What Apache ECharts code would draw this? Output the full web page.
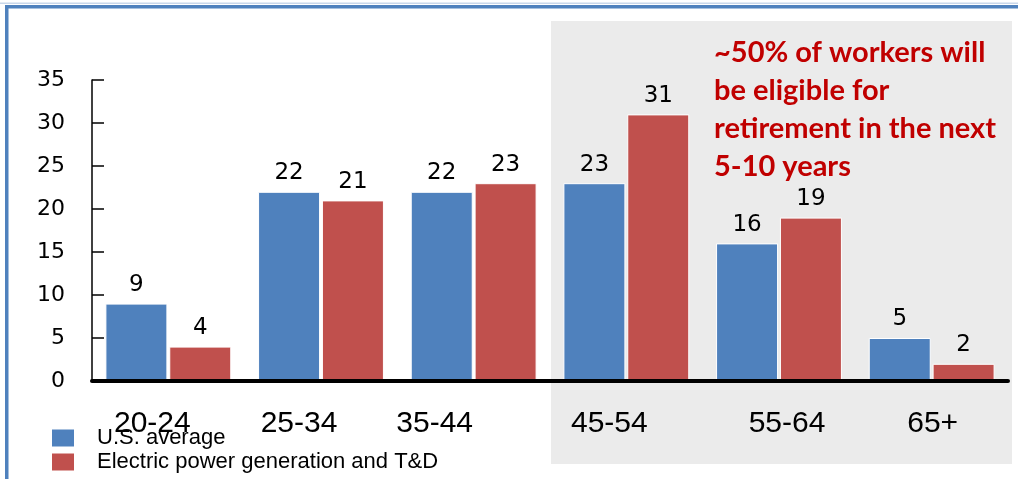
<!DOCTYPE html>
<html>
<head>
<meta charset="utf-8">
<title>Workforce by age group</title>
<script src="https://cdn.jsdelivr.net/npm/echarts@6/dist/echarts.min.js"></script>
<style>
  html, body { margin: 0; padding: 0; background: #ffffff; }
  #chart { width: 1018px; height: 479px; }
</style>
</head>
<body>
<div id="chart"></div>
<script>
// Share of workers (%) in each age group
const ageGroups = ['20-24', '25-34', '35-44', '45-54', '55-64', '65+'];
const usAverage = [9, 22, 22, 23, 16, 5];
const electricPower = [4, 21, 23, 31, 19, 2];
const yTicks = [0, 5, 10, 15, 20, 25, 30, 35];
const seriesNames = ['U.S. average', 'Electric power generation and T&D'];
const noteLines = [
  '~50% of workers will',
  'be eligible for',
  'retirement in the next',
  '5-10 years'
];

const BLUE = '#4F81BD';
const RED = '#C0504D';
const NUM_FONT = '"DejaVu Sans", Arial, sans-serif';
const TXT_FONT = '"Liberation Sans", Arial, sans-serif';

// horizontal nudges for the category labels (px, negative = left)
const labelNudge = [-16, -22, -39, -17, 8, 1];
const richLabels = {};
labelNudge.forEach(function (d, i) {
  richLabels['c' + i] = {
    fontFamily: TXT_FONT,
    fontSize: 30,
    color: '#000',
    padding: d < 0 ? [0, -2 * d, 0, 0] : [0, 0, 0, 2 * d]
  };
});

const chart = echarts.init(document.getElementById('chart'), null, { renderer: 'canvas' });

const barLabel = {
  show: true,
  position: 'top',
  distance: 7,
  color: '#000',
  fontFamily: NUM_FONT,
  fontSize: 23
};

chart.setOption({
  animation: false,
  backgroundColor: '#ffffff',
  graphic: [
    // shaded panel behind the older age groups
    { type: 'rect', z: -10, silent: true,
      shape: { x: 551, y: 21, width: 461, height: 443 },
      style: { fill: '#EBEBEB' } },
    // slide frame
    { type: 'rect', z: -5, silent: true,
      shape: { x: 0, y: 2.5, width: 1018, height: 1.5 },
      style: { fill: '#C9D7EA' } },
    { type: 'rect', z: -5, silent: true,
      shape: { x: 5, y: 5, width: 1013, height: 3.5 },
      style: { fill: BLUE } },
    { type: 'rect', z: -5, silent: true,
      shape: { x: 5, y: 5, width: 3.5, height: 474 },
      style: { fill: BLUE } },
    // note
    { type: 'text', left: 714, top: 33, z: 20,
      style: {
        text: noteLines.join('\n'),
        fill: '#C00000',
        font: 'bold 29px Lato, "Open Sans", sans-serif',
        lineHeight: 38.3
      } }
  ],
  legend: {
    orient: 'vertical',
    left: 52,
    top: 427,
    padding: 0,
    itemWidth: 22,
    itemHeight: 17,
    itemGap: 2,
    icon: 'rect',
    itemStyle: { borderWidth: 0 },
    textStyle: {
      fontFamily: TXT_FONT,
      fontSize: 22,
      lineHeight: 22,
      color: '#000',
      padding: [0, 0, 0, 18]
    },
    data: seriesNames
  },
  grid: { left: 92, right: 10, top: 80, bottom: 98 },
  xAxis: {
    type: 'category',
    data: ageGroups,
    axisLine: { show: true, lineStyle: { color: '#000', width: 4 } },
    axisTick: { show: false },
    axisLabel: {
      margin: 28,
      interval: 0,
      formatter: function (v, i) { return '{c' + i + '|' + v + '}'; },
      rich: richLabels
    },
    z: 5
  },
  yAxis: {
    type: 'value',
    min: yTicks[0],
    max: yTicks[yTicks.length - 1],
    interval: yTicks[1] - yTicks[0],
    axisLine: { show: true, lineStyle: { color: '#000', width: 1.5 } },
    axisTick: { show: true, inside: true, length: 12, lineStyle: { color: '#000', width: 1.5 } },
    splitLine: { show: false },
    axisLabel: {
      margin: 27,
      color: '#000',
      fontFamily: NUM_FONT,
      fontSize: 22
    }
  },
  series: [
    {
      name: seriesNames[0],
      type: 'bar',
      data: usAverage,
      barWidth: 62,
      barGap: '3%',
      itemStyle: { color: BLUE, borderColor: '#ffffff', borderWidth: 1 },
      label: barLabel
    },
    {
      name: seriesNames[1],
      type: 'bar',
      data: electricPower,
      barWidth: 62,
      itemStyle: { color: RED, borderColor: '#ffffff', borderWidth: 1 },
      label: barLabel
    }
  ]
});
</script>
</body>
</html>
